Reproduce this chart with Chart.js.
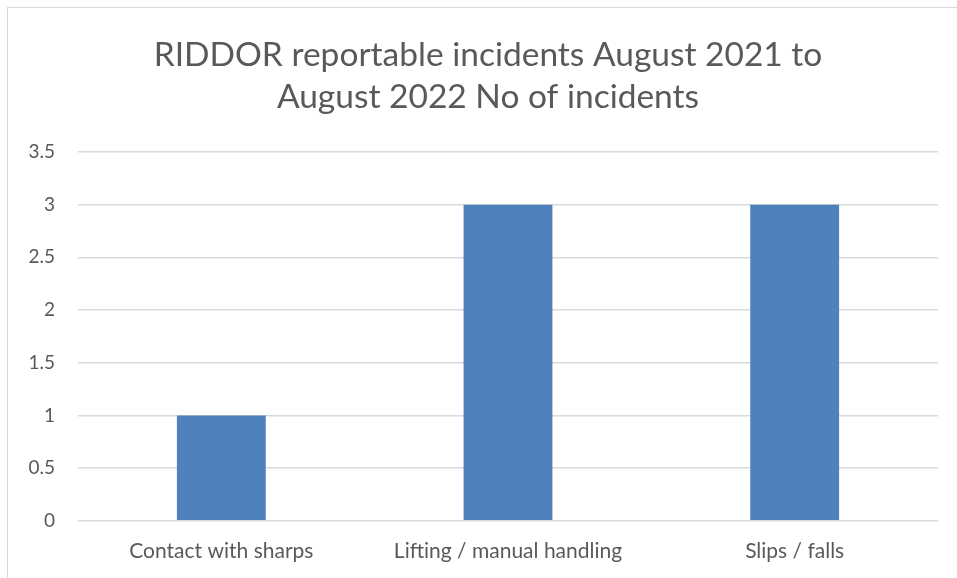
<!DOCTYPE html>
<html>
<head>
<meta charset="utf-8">
<script src="https://cdn.jsdelivr.net/npm/chart.js@4"></script>
<style>
  html, body { margin: 0; padding: 0; background: #fff; }
  #wrap { position: relative; width: 957px; height: 578px; overflow: hidden; }
  #frame { position: absolute; left: 7px; top: 7px; width: 1000px; height: 700px; border-left: 1px solid #d9d9d9; border-top: 1px solid #d9d9d9; }
  canvas { position: absolute; left: 0; top: 0; }
</style>
</head>
<body>
<div id="wrap">
  <div id="frame"></div>
  <canvas id="myBarChart" width="957" height="578"></canvas>
</div>
<script>
var categories = ['Contact with sharps', 'Lifting / manual handling', 'Slips / falls'];
var incidents = [1, 3, 3];
var titleLines = ['RIDDOR reportable incidents August 2021 to', 'August 2022 No of incidents'];

// title is centred on the outer frame, not the plot, so draw it by hand
var titlePlugin = {
    id: 'frameTitle',
    afterDraw: function (chart) {
        var ctx = chart.ctx;
        ctx.save();
        ctx.fillStyle = '#595959';
        ctx.font = '33.5px Lato';
        ctx.textAlign = 'center';
        ctx.textBaseline = 'middle';
        titleLines.forEach(function (line, i) {
            ctx.fillText(line, 488, 55 + i * 42);
        });
        ctx.restore();
    }
};

document.addEventListener('DOMContentLoaded', function () {
    var ctxBar = document.getElementById('myBarChart').getContext('2d');
    var myBarChart = new Chart(ctxBar, {
        type: 'bar',
        data: {
            labels: categories,
            datasets: [{
                label: 'No of incidents',
                data: incidents,
                backgroundColor: '#4f81bd',
                categoryPercentage: 1,
                barPercentage: 0.31
            }]
        },
        plugins: [titlePlugin],
        options: {
            responsive: false,
            animation: false,
            layout: {
                padding: { left: 0, right: 19, top: 152, bottom: 4 }
            },
            scales: {
                x: {
                    grid: { display: false },
                    border: { display: false },
                    ticks: {
                        color: '#595959',
                        font: { family: 'Lato', size: 21 },
                        padding: 10,
                        maxRotation: 0
                    }
                },
                y: {
                    min: 0,
                    max: 3.5,
                    grid: { color: '#d9d9d9', lineWidth: 1.5, drawTicks: false },
                    border: { display: false },
                    afterFit: function (scale) { scale.width = 78; },
                    ticks: {
                        stepSize: 0.5,
                        color: '#595959',
                        font: { family: 'Lato', size: 19 },
                        padding: 23,
                        callback: function (value) { return String(value); }
                    }
                }
            },
            plugins: {
                legend: { display: false },
                tooltip: { enabled: false },
                title: { display: false }
            }
        }
    });
});
</script>
</body>
</html>
